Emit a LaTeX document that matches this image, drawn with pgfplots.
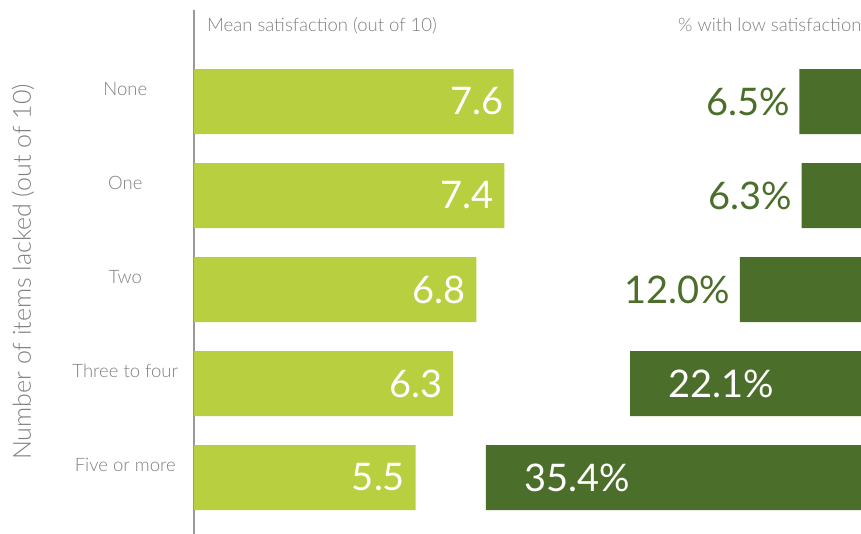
\documentclass[border=0pt]{standalone}
\usepackage{pgfplots}
\pgfplotsset{compat=1.18}
\usepackage{fontspec}
\setmainfont{Lato}[UprightFont={* Light}]
\newfontfamily\reg{Lato}
\definecolor{lg}{HTML}{B8CF40}
\definecolor{dg}{HTML}{4B6F2A}
\definecolor{tg}{HTML}{808080}
\newcommand\fs[1]{\fontsize{#1}{#1}\selectfont}
\pgfplotsset{/pgf/number format/assume math mode=true}
\begin{document}
\begin{tikzpicture}
\useasboundingbox (0pt,0pt) rectangle (861pt,534pt);
\clip (0pt,0pt) rectangle (861pt,534pt);
\draw[color=black!40, line width=1.6pt] (194pt,0pt) -- (194pt,524pt);
\node[anchor=base west, inner sep=0pt, text=tg, font=\fs{18.5}] at (207pt,502pt) {Mean satisfaction (out of 10)};
\node[anchor=base west, inner sep=0pt, text=tg, font=\fs{18.5}] at (678pt,502pt) {\% with low satisfaction};
\node[rotate=90, text=tg, font=\fs{25}] at (23pt,262pt) {Number of items lacked (out of 10)};
% left panel
\begin{axis}[at={(194pt,9.5pt)}, anchor=south west, scale only axis,
  width=338.4pt, height=470pt, xmin=0.76, xmax=8, ymin=-0.5, ymax=4.5,
  y dir=reverse, hide axis, xbar, bar width=65pt, clip mode=individual,
  point meta=x]
\addplot[fill=lg, draw=none, bar shift=0pt, nodes near coords,
  nodes near coords style={anchor=east, xshift=-7pt, text=white, font=\reg\fs{38}},
  nodes near coords={\pgfmathprintnumber[fixed,precision=1,fixed zerofill]{\pgfplotspointmeta}}]
  coordinates {(7.6,0) (7.4,1) (6.8,2) (6.3,3) (5.5,4)};
\foreach \lab [count=\i from 0] in {None,One,Two,Three to four,Five or more}{
  \edef\tmp{\noexpand\node[anchor=base, text=tg, font=\noexpand\fs{18.5}, yshift=6pt] at (axis cs:-0.71,\i) {\lab};}
  \tmp
}
\end{axis}
% right panel
\begin{axis}[at={(468.5pt,9.5pt)}, anchor=south west, scale only axis,
  width=401.5pt, height=470pt, xmin=0, xmax=37, x dir=reverse,
  ymin=-0.5, ymax=4.5, y dir=reverse, hide axis, xbar, bar width=65pt,
  point meta=x]
\addplot[fill=dg, draw=none, bar shift=0pt, nodes near coords,
  nodes near coords style={anchor=east, xshift=-6pt, text=dg, font=\reg\fs{38}},
  nodes near coords={\pgfmathprintnumber[fixed,precision=1,fixed zerofill]{\pgfplotspointmeta}\%}]
  coordinates {(6.5,0) (6.3,1) (12.0,2)};
\addplot[fill=dg, draw=none, bar shift=0pt, nodes near coords,
  nodes near coords style={anchor=west, xshift=35pt, text=white, font=\reg\fs{38}},
  nodes near coords={\pgfmathprintnumber[fixed,precision=1,fixed zerofill]{\pgfplotspointmeta}\%}]
  coordinates {(22.1,3) (35.4,4)};
\end{axis}
\end{tikzpicture}
\end{document}
